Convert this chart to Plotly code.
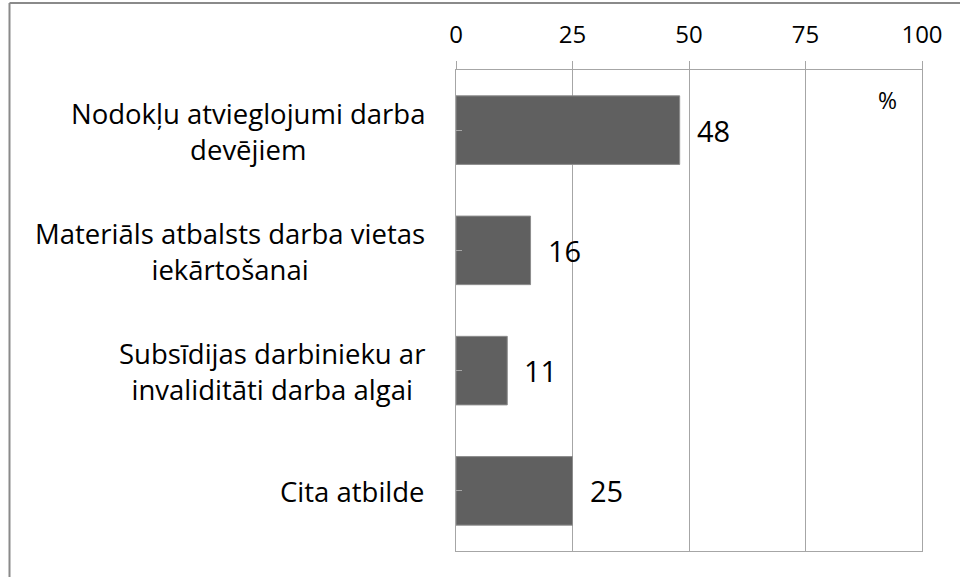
import plotly.graph_objects as go

categories = [
    "Nodokļu atvieglojumi darba<br>devējiem",
    "Materiāls atbalsts darba vietas<br>iekārtošanai",
    "Subsīdijas darbinieku ar<br>invaliditāti darba algai",
    "Cita atbilde",
]
values = [48, 16, 11, 25]
tick_vals = [0, 25, 50, 75, 100]
tick_text = ["0", "25", "50", "75", "100"]
unit_label = "%"

W, H = 960, 577
ML, MR, MT, MB = 456, 38, 70, 26
FONT = "Open Sans"
GRID = "#a6a6a6"

fig = go.Figure()
fig.add_trace(go.Bar(
    y=list(range(len(categories))), x=values, orientation="h",
    marker=dict(color="#606060", line=dict(color="#8c8c8c", width=1)),
    width=0.57, hoverinfo="skip",
))

ann = []
for i, (cat, v) in enumerate(zip(categories, values)):
    ann.append(dict(
        x=0, xref="paper", y=i, yref="y", text=cat, showarrow=False,
        xanchor="right", yanchor="middle", align="center", xshift=-29, yshift=-1,
        font=dict(family=FONT, size=27.5, color="#000000"),
    ))
    ann.append(dict(
        x=v, xref="x", y=i, yref="y", text=str(v), showarrow=False,
        xanchor="left", yanchor="middle", xshift=15,
        font=dict(family=FONT, size=29, color="#000000"),
    ))
ann.append(dict(x=92.5, xref="x", y=0, yref="y", yshift=30, text=unit_label,
                showarrow=False, xanchor="center", yanchor="middle",
                font=dict(family=FONT, size=23, color="#000000")))

pw = W - ML - MR
ph = H - MT - MB
def px2x(p):
    return (p - ML) / pw
def py2y(p):
    return 1 - (p - MT) / ph

shapes = [
    dict(type="line", xref="paper", yref="paper", x0=px2x(9.5), x1=px2x(965),
         y0=py2y(3), y1=py2y(3), line=dict(color="#8a8a8a", width=2)),
    dict(type="line", xref="paper", yref="paper", x0=px2x(9.5), x1=px2x(9.5),
         y0=py2y(3), y1=py2y(585), line=dict(color="#8a8a8a", width=2)),
]

fig.update_layout(
    width=W, height=H, margin=dict(l=ML, r=MR, t=MT, b=MB),
    paper_bgcolor="white", plot_bgcolor="white",
    showlegend=False, annotations=ann, shapes=shapes,
    xaxis=dict(side="top", range=[0, 100], tickvals=tick_vals, ticktext=tick_text,
               showgrid=True, gridcolor=GRID, gridwidth=1,
               showline=True, linecolor=GRID, linewidth=1, mirror=True,
               ticks="outside", ticklen=8, tickcolor=GRID, ticklabelstandoff=8,
               tickfont=dict(family=FONT, size=24, color="#000000"), zeroline=False,
               fixedrange=True),
    yaxis=dict(range=[3.5, -0.5], showticklabels=False, showgrid=False,
               tickvals=list(range(len(categories))),
               showline=True, linecolor=GRID, linewidth=1, mirror=True,
               ticks="inside", ticklen=6, tickcolor=GRID, zeroline=False,
               fixedrange=True),
    font=dict(family=FONT),
)

fig.write_html("out.html", config={"displayModeBar": False},
               post_script="document.body.style.margin='0px';")
